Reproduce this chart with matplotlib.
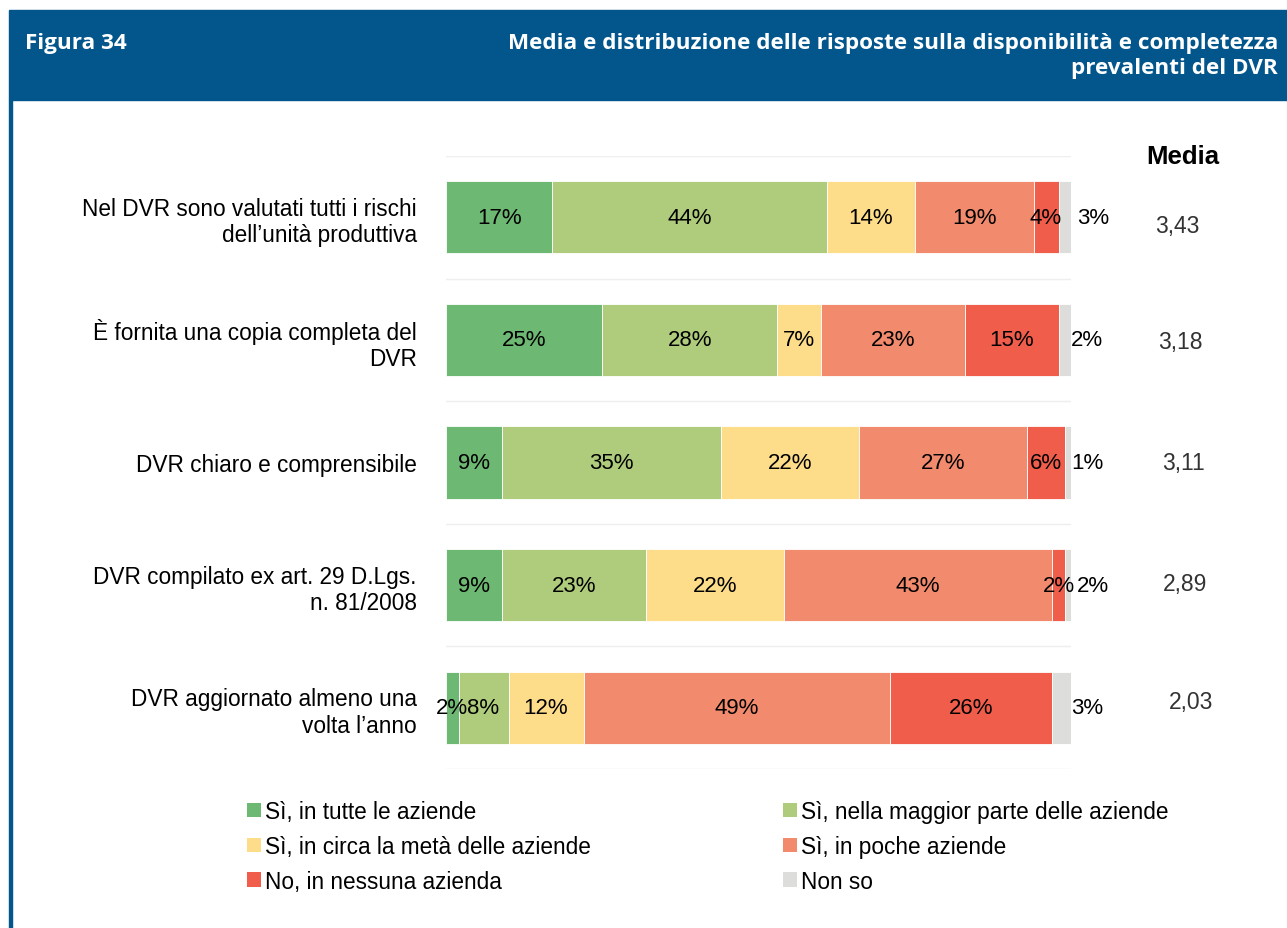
import matplotlib.pyplot as plt
from matplotlib.patches import Rectangle, Patch

# Domande e risposte (percentuali)
domande = [
    "Nel DVR sono valutati tutti i rischi\ndell\u2019unità produttiva",
    "È fornita una copia completa del\nDVR",
    "DVR chiaro e comprensibile",
    "DVR compilato ex art. 29 D.Lgs.\nn. 81/2008",
    "DVR aggiornato almeno una\nvolta l\u2019anno",
]
risposte = [
    "Sì, in tutte le aziende",
    "Sì, nella maggior parte delle aziende",
    "Sì, in circa la metà delle aziende",
    "Sì, in poche aziende",
    "No, in nessuna azienda",
    "Non so",
]
tutte = [17, 25, 9, 9, 2]
maggior = [44, 28, 35, 23, 8]
meta = [14, 7, 22, 22, 12]
poche = [19, 23, 27, 43, 49]
nessuna = [4, 15, 6, 2, 26]
non_so = [3, 2, 1, 2, 3]
media = ["3,43", "3,18", "3,11", "2,89", "2,03"]

serie = [tutte, maggior, meta, poche, nessuna, non_so]
colori = ["#6DB872", "#AECC7B", "#FDDC8A", "#F28B6D", "#F05D4A", "#DDDDDB"]

blu = "#03568C"
font = "Liberation Sans"
W, H = 1287, 929

fig = plt.figure(figsize=(W / 100, H / 100), dpi=100)

# intestazione
fig.patches.append(Rectangle((9 / W, 1 - 101 / H), 1, 90 / H,
                             transform=fig.transFigure, color=blu, zorder=0))
fig.patches.append(Rectangle((9 / W, 0), 3 / W, 1 - 101 / H,
                             transform=fig.transFigure, color=blu, zorder=0))
fig.text(25 / W, 1 - 44 / H, "Figura 34", color="white", fontsize=16.2,
         fontweight="bold", family="Open Sans", va="center", ha="left")
fig.text(1278 / W, 1 - 56 / H,
         "Media e distribuzione delle risposte sulla disponibilità e completezza\nprevalenti del DVR",
         color="white", fontsize=16.2, fontweight="bold", family="Open Sans",
         va="center", ha="right", multialignment="right", linespacing=1.25)

ax = fig.add_axes([446 / W, 1 - 770 / H, 625 / W, 613 / H])
y = list(range(len(domande)))
sinistra = [0] * len(domande)
for valori, colore in zip(serie, colori):
    ax.barh(y, valori, left=sinistra, height=0.59, color=colore,
            edgecolor="white", linewidth=0.6, zorder=2)
    sinistra = [s + v for s, v in zip(sinistra, valori)]

# etichette percentuali: "Non so" fuori dalla barra
for i in y:
    pos = 0
    for k, valori in enumerate(serie):
        v = valori[i]
        if k < 5:
            ax.text(pos + v / 2, i, f"{v}%", ha="center", va="center",
                    fontsize=16, family=font, color="black", zorder=3)
        else:
            ax.text(pos + v, i, f"{v}%", ha="left", va="center",
                    fontsize=16, family=font, color="black", zorder=3)
        pos += v

for g in [-0.5, 0.5, 1.5, 2.5, 3.5, 4.5]:
    ax.axhline(g, color="#EEEEEE", lw=1, zorder=1)

ax.set_xlim(0, 100)
ax.set_ylim(4.5, -0.5)
ax.set_yticks(y)
ax.set_yticklabels(domande, fontsize=16.3, family=font, multialignment="right")
ax.tick_params(axis="y", length=0, pad=21)
ax.set_xticks([])
for s in ax.spines.values():
    s.set_visible(False)

# colonna media
fig.text(1183 / W, 1 - 157 / H, "Media", fontsize=18.5, fontweight="bold",
         family=font, ha="center", va="center")
media_x = [1177, 1180, 1183, 1185, 1191]
media_y = [226, 342, 464, 584, 703]
for m, px, py in zip(media, media_x, media_y):
    fig.text(px / W, 1 - py / H, m, fontsize=16.5, family=font,
             color="#333333", ha="center", va="center")

# legenda (ordine per colonne)
ordine = [0, 2, 4, 1, 3, 5]
handles = [Patch(facecolor=colori[k], edgecolor="none") for k in ordine]
labels = [risposte[k] for k in ordine]
fig.legend(handles, labels, ncol=2, loc="upper left",
           bbox_to_anchor=(247 / W, 1 - 801 / H), frameon=False,
           prop={"family": font, "size": 16.3}, handlelength=0.6,
           handleheight=0.6, handletextpad=0.18, columnspacing=8.5,
           labelspacing=0.52, borderpad=0, borderaxespad=0)

fig.savefig("out.png", dpi=100)
